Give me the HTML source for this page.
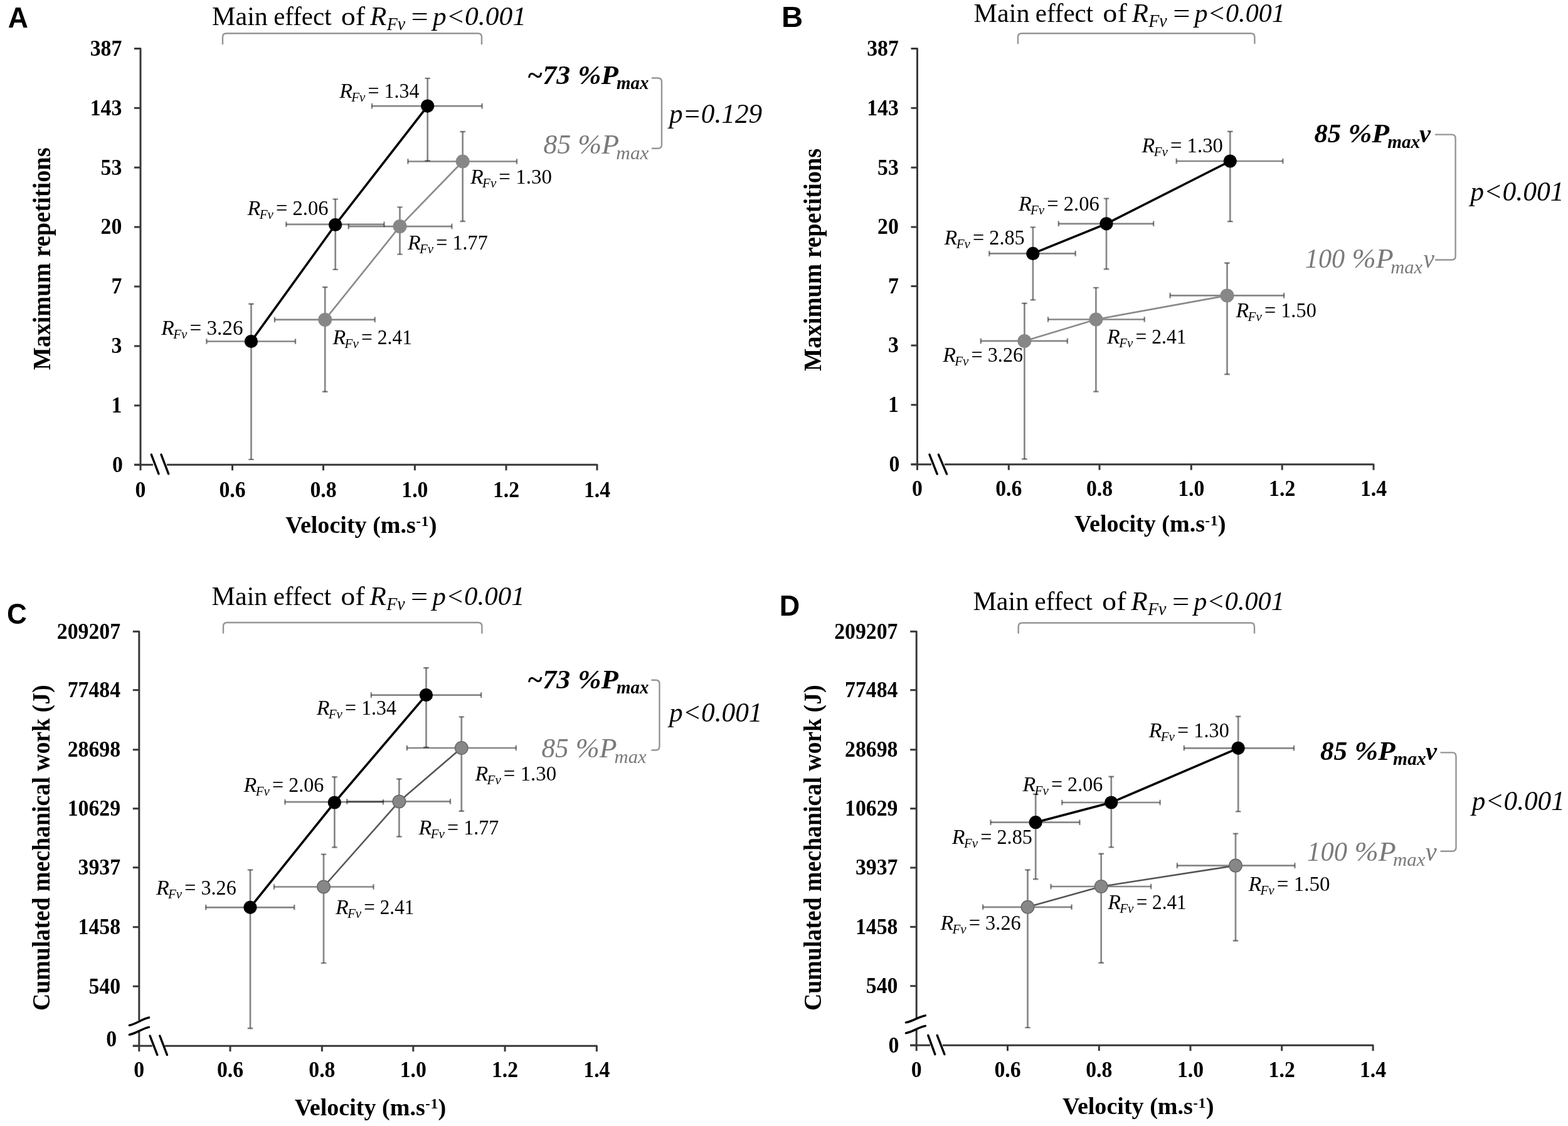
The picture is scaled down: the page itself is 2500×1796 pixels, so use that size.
<!DOCTYPE html>
<html><head><meta charset="utf-8"><title>Figure</title><style>html,body{margin:0;padding:0;background:#fff;overflow:hidden}svg{display:block}</style></head><body>
<svg width="2500" height="1796" viewBox="0 0 2500 1796" font-family="'Liberation Serif', 'Times New Roman', serif" fill="#000">
<rect width="2500" height="1796" fill="#fff"/>
<path d="M214,77.4 L224,77.4 L224,750.3" fill="none" stroke="#383838" stroke-width="3" stroke-linejoin="round"/>
<line x1="214" y1="172.3" x2="224" y2="172.3" stroke="#383838" stroke-width="3" stroke-linecap="butt"/>
<line x1="214" y1="267.2" x2="224" y2="267.2" stroke="#383838" stroke-width="3" stroke-linecap="butt"/>
<line x1="214" y1="362.1" x2="224" y2="362.1" stroke="#383838" stroke-width="3" stroke-linecap="butt"/>
<line x1="214" y1="457" x2="224" y2="457" stroke="#383838" stroke-width="3" stroke-linecap="butt"/>
<line x1="214" y1="552" x2="224" y2="552" stroke="#383838" stroke-width="3" stroke-linecap="butt"/>
<line x1="214" y1="646.8" x2="224" y2="646.8" stroke="#383838" stroke-width="3" stroke-linecap="butt"/>
<line x1="214" y1="741.3" x2="224" y2="741.3" stroke="#383838" stroke-width="3" stroke-linecap="butt"/>
<line x1="214" y1="741.3" x2="244" y2="741.3" stroke="#383838" stroke-width="3" stroke-linecap="butt"/>
<path d="M266,741.3 L952,741.3 L952,750.3" fill="none" stroke="#383838" stroke-width="3" stroke-linejoin="round"/>
<line x1="370.5" y1="741.3" x2="370.5" y2="750.3" stroke="#383838" stroke-width="3" stroke-linecap="butt"/>
<line x1="515.5" y1="741.3" x2="515.5" y2="750.3" stroke="#383838" stroke-width="3" stroke-linecap="butt"/>
<line x1="661.4" y1="741.3" x2="661.4" y2="750.3" stroke="#383838" stroke-width="3" stroke-linecap="butt"/>
<line x1="807" y1="741.3" x2="807" y2="750.3" stroke="#383838" stroke-width="3" stroke-linecap="butt"/>
<line x1="241.3" y1="725.1" x2="253" y2="755.8" stroke="#000" stroke-width="3.4" stroke-linecap="round"/>
<line x1="257" y1="725.1" x2="268.7" y2="755.8" stroke="#000" stroke-width="3.4" stroke-linecap="round"/>
<g font-weight="bold" font-size="35">
<text x="194.3" y="88.7" text-anchor="end" textLength="50.66" lengthAdjust="spacingAndGlyphs">387</text>
<text x="194.3" y="183.6" text-anchor="end" textLength="50.66" lengthAdjust="spacingAndGlyphs">143</text>
<text x="194.3" y="278.5" text-anchor="end" textLength="33.77" lengthAdjust="spacingAndGlyphs">53</text>
<text x="194.3" y="373.4" text-anchor="end" textLength="33.77" lengthAdjust="spacingAndGlyphs">20</text>
<text x="194.3" y="468.3" text-anchor="end" textLength="16.89" lengthAdjust="spacingAndGlyphs">7</text>
<text x="194.3" y="563.3" text-anchor="end" textLength="16.89" lengthAdjust="spacingAndGlyphs">3</text>
<text x="194.3" y="658.1" text-anchor="end" textLength="16.89" lengthAdjust="spacingAndGlyphs">1</text>
<text x="195.8" y="752.6" text-anchor="end" textLength="16.89" lengthAdjust="spacingAndGlyphs">0</text>
<text x="224" y="792.5" text-anchor="middle" textLength="16.89" lengthAdjust="spacingAndGlyphs">0</text>
<text x="370.5" y="792.5" text-anchor="middle" textLength="42.22" lengthAdjust="spacingAndGlyphs">0.6</text>
<text x="515.5" y="792.5" text-anchor="middle" textLength="42.22" lengthAdjust="spacingAndGlyphs">0.8</text>
<text x="661.4" y="792.5" text-anchor="middle" textLength="42.22" lengthAdjust="spacingAndGlyphs">1.0</text>
<text x="807" y="792.5" text-anchor="middle" textLength="42.22" lengthAdjust="spacingAndGlyphs">1.2</text>
<text x="952" y="792.5" text-anchor="middle" textLength="42.22" lengthAdjust="spacingAndGlyphs">1.4</text>
</g>
<text><tspan x="454.88" y="849.50" font-size="38.5" font-weight="bold" textLength="208.04" lengthAdjust="spacingAndGlyphs">Velocity (m.s</tspan><tspan x="663.38" y="839.00" font-size="24" font-weight="bold" textLength="7.44" lengthAdjust="spacingAndGlyphs">-</tspan><tspan x="671.58" y="839.00" font-size="24" font-weight="bold">1</tspan><tspan x="683.66" y="849.50" font-size="38.5" font-weight="bold">)</tspan></text>
<text transform="translate(80.30,590.26) rotate(-90)" font-weight="bold" font-size="40" textLength="354.99" lengthAdjust="spacingAndGlyphs">Maximum repetitions</text>
<text><tspan x="12.69" y="43.50" font-size="46" font-family="Liberation Sans, Arial, sans-serif" font-weight="bold" textLength="32.18" lengthAdjust="spacingAndGlyphs">A</tspan></text>
<path d="M1452.5,77.4 L1462.5,77.4 L1462.5,749.7" fill="none" stroke="#383838" stroke-width="3" stroke-linejoin="round"/>
<line x1="1452.5" y1="172.3" x2="1462.5" y2="172.3" stroke="#383838" stroke-width="3" stroke-linecap="butt"/>
<line x1="1452.5" y1="267.2" x2="1462.5" y2="267.2" stroke="#383838" stroke-width="3" stroke-linecap="butt"/>
<line x1="1452.5" y1="362.1" x2="1462.5" y2="362.1" stroke="#383838" stroke-width="3" stroke-linecap="butt"/>
<line x1="1452.5" y1="456.5" x2="1462.5" y2="456.5" stroke="#383838" stroke-width="3" stroke-linecap="butt"/>
<line x1="1452.5" y1="551" x2="1462.5" y2="551" stroke="#383838" stroke-width="3" stroke-linecap="butt"/>
<line x1="1452.5" y1="645.8" x2="1462.5" y2="645.8" stroke="#383838" stroke-width="3" stroke-linecap="butt"/>
<line x1="1452.5" y1="740.7" x2="1462.5" y2="740.7" stroke="#383838" stroke-width="3" stroke-linecap="butt"/>
<line x1="1452.5" y1="740.7" x2="1485" y2="740.7" stroke="#383838" stroke-width="3" stroke-linecap="butt"/>
<path d="M1506,740.7 L2190,740.7 L2190,749.7" fill="none" stroke="#383838" stroke-width="3" stroke-linejoin="round"/>
<line x1="1608.3" y1="740.7" x2="1608.3" y2="749.7" stroke="#383838" stroke-width="3" stroke-linecap="butt"/>
<line x1="1753" y1="740.7" x2="1753" y2="749.7" stroke="#383838" stroke-width="3" stroke-linecap="butt"/>
<line x1="1899.3" y1="740.7" x2="1899.3" y2="749.7" stroke="#383838" stroke-width="3" stroke-linecap="butt"/>
<line x1="2044.2" y1="740.7" x2="2044.2" y2="749.7" stroke="#383838" stroke-width="3" stroke-linecap="butt"/>
<line x1="1482" y1="725.1" x2="1494.2" y2="756.1" stroke="#000" stroke-width="3.4" stroke-linecap="round"/>
<line x1="1496.4" y1="725.1" x2="1509.6" y2="756.1" stroke="#000" stroke-width="3.4" stroke-linecap="round"/>
<g font-weight="bold" font-size="35">
<text x="1432.8" y="88.7" text-anchor="end" textLength="50.66" lengthAdjust="spacingAndGlyphs">387</text>
<text x="1432.8" y="183.6" text-anchor="end" textLength="50.66" lengthAdjust="spacingAndGlyphs">143</text>
<text x="1432.8" y="278.5" text-anchor="end" textLength="33.77" lengthAdjust="spacingAndGlyphs">53</text>
<text x="1432.8" y="373.4" text-anchor="end" textLength="33.77" lengthAdjust="spacingAndGlyphs">20</text>
<text x="1432.8" y="467.8" text-anchor="end" textLength="16.89" lengthAdjust="spacingAndGlyphs">7</text>
<text x="1432.8" y="562.3" text-anchor="end" textLength="16.89" lengthAdjust="spacingAndGlyphs">3</text>
<text x="1432.8" y="657.1" text-anchor="end" textLength="16.89" lengthAdjust="spacingAndGlyphs">1</text>
<text x="1434.3" y="752" text-anchor="end" textLength="16.89" lengthAdjust="spacingAndGlyphs">0</text>
<text x="1462.5" y="791" text-anchor="middle" textLength="16.89" lengthAdjust="spacingAndGlyphs">0</text>
<text x="1608.3" y="791" text-anchor="middle" textLength="42.22" lengthAdjust="spacingAndGlyphs">0.6</text>
<text x="1753" y="791" text-anchor="middle" textLength="42.22" lengthAdjust="spacingAndGlyphs">0.8</text>
<text x="1899.3" y="791" text-anchor="middle" textLength="42.22" lengthAdjust="spacingAndGlyphs">1.0</text>
<text x="2044.2" y="791" text-anchor="middle" textLength="42.22" lengthAdjust="spacingAndGlyphs">1.2</text>
<text x="2190" y="791" text-anchor="middle" textLength="42.22" lengthAdjust="spacingAndGlyphs">1.4</text>
</g>
<text><tspan x="1712.98" y="848.10" font-size="38.5" font-weight="bold" textLength="208.04" lengthAdjust="spacingAndGlyphs">Velocity (m.s</tspan><tspan x="1921.48" y="837.60" font-size="24" font-weight="bold" textLength="7.44" lengthAdjust="spacingAndGlyphs">-</tspan><tspan x="1929.68" y="837.60" font-size="24" font-weight="bold">1</tspan><tspan x="1941.76" y="848.10" font-size="38.5" font-weight="bold">)</tspan></text>
<text transform="translate(1309.30,592.06) rotate(-90)" font-weight="bold" font-size="40" textLength="355.39" lengthAdjust="spacingAndGlyphs">Maximum repetitions</text>
<text><tspan x="1246.13" y="42.50" font-size="46" font-family="Liberation Sans, Arial, sans-serif" font-weight="bold" textLength="34.22" lengthAdjust="spacingAndGlyphs">B</tspan></text>
<path d="M211.8,1007.2 L221.8,1007.2 L221.8,1627.6" fill="none" stroke="#383838" stroke-width="3" stroke-linejoin="round"/>
<line x1="221.8" y1="1645.4" x2="221.8" y2="1677.2" stroke="#383838" stroke-width="3" stroke-linecap="butt"/>
<line x1="211.8" y1="1100.7" x2="221.8" y2="1100.7" stroke="#383838" stroke-width="3" stroke-linecap="butt"/>
<line x1="211.8" y1="1195.8" x2="221.8" y2="1195.8" stroke="#383838" stroke-width="3" stroke-linecap="butt"/>
<line x1="211.8" y1="1289.7" x2="221.8" y2="1289.7" stroke="#383838" stroke-width="3" stroke-linecap="butt"/>
<line x1="211.8" y1="1383.7" x2="221.8" y2="1383.7" stroke="#383838" stroke-width="3" stroke-linecap="butt"/>
<line x1="211.8" y1="1478.7" x2="221.8" y2="1478.7" stroke="#383838" stroke-width="3" stroke-linecap="butt"/>
<line x1="211.8" y1="1573.2" x2="221.8" y2="1573.2" stroke="#383838" stroke-width="3" stroke-linecap="butt"/>
<line x1="211.8" y1="1668.2" x2="221.8" y2="1668.2" stroke="#383838" stroke-width="3" stroke-linecap="butt"/>
<line x1="211.8" y1="1668.2" x2="242.8" y2="1668.2" stroke="#383838" stroke-width="3" stroke-linecap="butt"/>
<path d="M263,1668.2 L951.4,1668.2 L951.4,1677.2" fill="none" stroke="#383838" stroke-width="3" stroke-linejoin="round"/>
<line x1="367" y1="1668.2" x2="367" y2="1677.2" stroke="#383838" stroke-width="3" stroke-linecap="butt"/>
<line x1="513.4" y1="1668.2" x2="513.4" y2="1677.2" stroke="#383838" stroke-width="3" stroke-linecap="butt"/>
<line x1="658.8" y1="1668.2" x2="658.8" y2="1677.2" stroke="#383838" stroke-width="3" stroke-linecap="butt"/>
<line x1="805.1" y1="1668.2" x2="805.1" y2="1677.2" stroke="#383838" stroke-width="3" stroke-linecap="butt"/>
<line x1="239.1" y1="1652.2" x2="250.8" y2="1682.6" stroke="#000" stroke-width="3.4" stroke-linecap="round"/>
<line x1="254.8" y1="1652.2" x2="266.4" y2="1682.6" stroke="#000" stroke-width="3.4" stroke-linecap="round"/>
<path d="M206.3,1635.3 C218.2,1632.8 225.7,1625.5 237.6,1623" fill="none" stroke="#000" stroke-width="3.4" stroke-linecap="round"/>
<path d="M206.3,1650.3 C218.2,1647.9 225.7,1640.8 237.6,1638.4" fill="none" stroke="#000" stroke-width="3.4" stroke-linecap="round"/>
<g font-weight="bold" font-size="35">
<text x="192.1" y="1018.5" text-anchor="end" textLength="101.33" lengthAdjust="spacingAndGlyphs">209207</text>
<text x="192.1" y="1112" text-anchor="end" textLength="84.44" lengthAdjust="spacingAndGlyphs">77484</text>
<text x="192.1" y="1207.1" text-anchor="end" textLength="84.44" lengthAdjust="spacingAndGlyphs">28698</text>
<text x="192.1" y="1301" text-anchor="end" textLength="84.44" lengthAdjust="spacingAndGlyphs">10629</text>
<text x="192.1" y="1395" text-anchor="end" textLength="67.55" lengthAdjust="spacingAndGlyphs">3937</text>
<text x="192.1" y="1490" text-anchor="end" textLength="67.55" lengthAdjust="spacingAndGlyphs">1458</text>
<text x="192.1" y="1584.5" text-anchor="end" textLength="50.66" lengthAdjust="spacingAndGlyphs">540</text>
<text x="186.1" y="1669.3" text-anchor="end" textLength="16.89" lengthAdjust="spacingAndGlyphs">0</text>
<text x="221.6" y="1718.3" text-anchor="middle" textLength="16.89" lengthAdjust="spacingAndGlyphs">0</text>
<text x="367" y="1718.3" text-anchor="middle" textLength="42.22" lengthAdjust="spacingAndGlyphs">0.6</text>
<text x="513.4" y="1718.3" text-anchor="middle" textLength="42.22" lengthAdjust="spacingAndGlyphs">0.8</text>
<text x="658.8" y="1718.3" text-anchor="middle" textLength="42.22" lengthAdjust="spacingAndGlyphs">1.0</text>
<text x="805.1" y="1718.3" text-anchor="middle" textLength="42.22" lengthAdjust="spacingAndGlyphs">1.2</text>
<text x="951.4" y="1718.3" text-anchor="middle" textLength="42.22" lengthAdjust="spacingAndGlyphs">1.4</text>
</g>
<text><tspan x="469.78" y="1778.70" font-size="38.5" font-weight="bold" textLength="208.04" lengthAdjust="spacingAndGlyphs">Velocity (m.s</tspan><tspan x="678.28" y="1768.20" font-size="24" font-weight="bold" textLength="7.44" lengthAdjust="spacingAndGlyphs">-</tspan><tspan x="686.48" y="1768.20" font-size="24" font-weight="bold">1</tspan><tspan x="698.56" y="1778.70" font-size="38.5" font-weight="bold">)</tspan></text>
<text transform="translate(79.20,1612.05) rotate(-90)" font-weight="bold" font-size="40" textLength="519.71" lengthAdjust="spacingAndGlyphs">Cumulated mechanical work (J)</text>
<text><tspan x="10.89" y="994.60" font-size="46" font-family="Liberation Sans, Arial, sans-serif" font-weight="bold" textLength="31.81" lengthAdjust="spacingAndGlyphs">C</tspan></text>
<path d="M1451.2,1007.2 L1461.2,1007.2 L1461.2,1624.5" fill="none" stroke="#383838" stroke-width="3" stroke-linejoin="round"/>
<line x1="1461.2" y1="1642" x2="1461.2" y2="1676.2" stroke="#383838" stroke-width="3" stroke-linecap="butt"/>
<line x1="1451.2" y1="1100.7" x2="1461.2" y2="1100.7" stroke="#383838" stroke-width="3" stroke-linecap="butt"/>
<line x1="1451.2" y1="1195.8" x2="1461.2" y2="1195.8" stroke="#383838" stroke-width="3" stroke-linecap="butt"/>
<line x1="1451.2" y1="1289.7" x2="1461.2" y2="1289.7" stroke="#383838" stroke-width="3" stroke-linecap="butt"/>
<line x1="1451.2" y1="1384" x2="1461.2" y2="1384" stroke="#383838" stroke-width="3" stroke-linecap="butt"/>
<line x1="1451.2" y1="1478.4" x2="1461.2" y2="1478.4" stroke="#383838" stroke-width="3" stroke-linecap="butt"/>
<line x1="1451.2" y1="1572.7" x2="1461.2" y2="1572.7" stroke="#383838" stroke-width="3" stroke-linecap="butt"/>
<line x1="1451.2" y1="1667.2" x2="1461.2" y2="1667.2" stroke="#383838" stroke-width="3" stroke-linecap="butt"/>
<line x1="1451.2" y1="1667.2" x2="1483" y2="1667.2" stroke="#383838" stroke-width="3" stroke-linecap="butt"/>
<path d="M1503,1667.2 L2189.1,1667.2 L2189.1,1676.2" fill="none" stroke="#383838" stroke-width="3" stroke-linejoin="round"/>
<line x1="1606.5" y1="1667.2" x2="1606.5" y2="1676.2" stroke="#383838" stroke-width="3" stroke-linecap="butt"/>
<line x1="1752.3" y1="1667.2" x2="1752.3" y2="1676.2" stroke="#383838" stroke-width="3" stroke-linecap="butt"/>
<line x1="1898" y1="1667.2" x2="1898" y2="1676.2" stroke="#383838" stroke-width="3" stroke-linecap="butt"/>
<line x1="2043.7" y1="1667.2" x2="2043.7" y2="1676.2" stroke="#383838" stroke-width="3" stroke-linecap="butt"/>
<line x1="1479.8" y1="1651.4" x2="1490.8" y2="1681.7" stroke="#000" stroke-width="3.4" stroke-linecap="round"/>
<line x1="1494.2" y1="1651.4" x2="1505.9" y2="1681.7" stroke="#000" stroke-width="3.4" stroke-linecap="round"/>
<path d="M1444.4,1630.9 C1456.2,1628.7 1463.6,1622 1475.4,1619.8" fill="none" stroke="#000" stroke-width="3.4" stroke-linecap="round"/>
<path d="M1444.4,1647.9 C1456.2,1645.6 1463.6,1638.7 1475.4,1636.4" fill="none" stroke="#000" stroke-width="3.4" stroke-linecap="round"/>
<g font-weight="bold" font-size="35">
<text x="1431.5" y="1018.5" text-anchor="end" textLength="101.33" lengthAdjust="spacingAndGlyphs">209207</text>
<text x="1431.5" y="1112" text-anchor="end" textLength="84.44" lengthAdjust="spacingAndGlyphs">77484</text>
<text x="1431.5" y="1207.1" text-anchor="end" textLength="84.44" lengthAdjust="spacingAndGlyphs">28698</text>
<text x="1431.5" y="1301" text-anchor="end" textLength="84.44" lengthAdjust="spacingAndGlyphs">10629</text>
<text x="1431.5" y="1395.3" text-anchor="end" textLength="67.55" lengthAdjust="spacingAndGlyphs">3937</text>
<text x="1431.5" y="1489.7" text-anchor="end" textLength="67.55" lengthAdjust="spacingAndGlyphs">1458</text>
<text x="1431.5" y="1584" text-anchor="end" textLength="50.66" lengthAdjust="spacingAndGlyphs">540</text>
<text x="1433.5" y="1678.5" text-anchor="end" textLength="16.89" lengthAdjust="spacingAndGlyphs">0</text>
<text x="1461.3" y="1718" text-anchor="middle" textLength="16.89" lengthAdjust="spacingAndGlyphs">0</text>
<text x="1606.5" y="1718" text-anchor="middle" textLength="42.22" lengthAdjust="spacingAndGlyphs">0.6</text>
<text x="1752.3" y="1718" text-anchor="middle" textLength="42.22" lengthAdjust="spacingAndGlyphs">0.8</text>
<text x="1898" y="1718" text-anchor="middle" textLength="42.22" lengthAdjust="spacingAndGlyphs">1.0</text>
<text x="2043.7" y="1718" text-anchor="middle" textLength="42.22" lengthAdjust="spacingAndGlyphs">1.2</text>
<text x="2189.1" y="1718" text-anchor="middle" textLength="42.22" lengthAdjust="spacingAndGlyphs">1.4</text>
</g>
<text><tspan x="1693.88" y="1777.30" font-size="38.5" font-weight="bold" textLength="208.04" lengthAdjust="spacingAndGlyphs">Velocity (m.s</tspan><tspan x="1902.38" y="1766.80" font-size="24" font-weight="bold" textLength="7.44" lengthAdjust="spacingAndGlyphs">-</tspan><tspan x="1910.58" y="1766.80" font-size="24" font-weight="bold">1</tspan><tspan x="1922.66" y="1777.30" font-size="38.5" font-weight="bold">)</tspan></text>
<text transform="translate(1308.60,1612.05) rotate(-90)" font-weight="bold" font-size="40" textLength="519.71" lengthAdjust="spacingAndGlyphs">Cumulated mechanical work (J)</text>
<text><tspan x="1242.79" y="982.40" font-size="46" font-family="Liberation Sans, Arial, sans-serif" font-weight="bold" textLength="32.50" lengthAdjust="spacingAndGlyphs">D</tspan></text>
<text><tspan x="337.99" y="39.60" font-size="43" textLength="88.95" lengthAdjust="spacingAndGlyphs">Main</tspan><tspan x="436.22" y="39.60" font-size="43" textLength="92.32" lengthAdjust="spacingAndGlyphs">effect</tspan><tspan x="543.74" y="39.60" font-size="43" textLength="38.46" lengthAdjust="spacingAndGlyphs">of</tspan><tspan x="590.03" y="39.60" font-size="43" font-style="italic">R</tspan><tspan x="616.65" y="47.80" font-size="29" font-style="italic" textLength="29.45" lengthAdjust="spacingAndGlyphs">Fv</tspan><tspan x="655.59" y="39.60" font-size="43" textLength="27.27" lengthAdjust="spacingAndGlyphs">=</tspan><tspan x="689.95" y="39.60" font-size="43" font-style="italic" textLength="149.13" lengthAdjust="spacingAndGlyphs">p&lt;0.001</tspan></text>
<path d="M355,71 L355,59.3 Q355,53.3 361,53.3 L762,53.3 Q768,53.3 768,59.3 L768,71" fill="none" stroke="#959595" stroke-width="2.4"/>
<path d="M329.4,544.5H471M400.5,484.8V732.9" fill="none" stroke="#000" stroke-opacity="0.47" stroke-width="2.7"/>
<path d="M329.4,540.2V548.8M471,540.2V548.8M396.2,484.8H404.8M396.2,732.9H404.8" fill="none" stroke="#000" stroke-opacity="0.47" stroke-width="2.4"/>
<path d="M456.3,357.8H612.5M534.7,317.6V429.9" fill="none" stroke="#000" stroke-opacity="0.47" stroke-width="2.7"/>
<path d="M456.3,353.5V362.1M612.5,353.5V362.1M530.4,317.6H539M530.4,429.9H539" fill="none" stroke="#000" stroke-opacity="0.47" stroke-width="2.4"/>
<path d="M592.9,169.1H768.6M681.7,124.9V256.4" fill="none" stroke="#000" stroke-opacity="0.47" stroke-width="2.7"/>
<path d="M592.9,164.8V173.4M768.6,164.8V173.4M677.4,124.9H686M677.4,256.4H686" fill="none" stroke="#000" stroke-opacity="0.47" stroke-width="2.4"/>
<path d="M437.9,509.9H597.7M518.2,458V624.8" fill="none" stroke="#000" stroke-opacity="0.47" stroke-width="2.7"/>
<path d="M437.9,505.6V514.2M597.7,505.6V514.2M513.9,458H522.5M513.9,624.8H522.5" fill="none" stroke="#000" stroke-opacity="0.47" stroke-width="2.4"/>
<path d="M555.7,361.1H720.4M637.5,330.4V405.6" fill="none" stroke="#000" stroke-opacity="0.47" stroke-width="2.7"/>
<path d="M555.7,356.8V365.4M720.4,356.8V365.4M633.2,330.4H641.8M633.2,405.6H641.8" fill="none" stroke="#000" stroke-opacity="0.47" stroke-width="2.4"/>
<path d="M650.4,257.5H824M737.7,210V353" fill="none" stroke="#000" stroke-opacity="0.47" stroke-width="2.7"/>
<path d="M650.4,253.2V261.8M824,253.2V261.8M733.4,210H742M733.4,353H742" fill="none" stroke="#000" stroke-opacity="0.47" stroke-width="2.4"/>
<polyline points="518.2,509.9 637.5,361.1 737.7,257.5" fill="none" stroke="#8a8a8a" stroke-width="2.6"/>
<polyline points="400.5,544.5 534.7,358.5 681.7,169.1" fill="none" stroke="#000" stroke-width="3.6"/>
<circle cx="518.2" cy="509.9" r="11" fill="#878787"/>
<circle cx="637.5" cy="361.1" r="11" fill="#878787"/>
<circle cx="737.7" cy="257.5" r="11" fill="#878787"/>
<circle cx="400.5" cy="544.5" r="10.6" fill="#000"/>
<circle cx="534.7" cy="358.5" r="10.6" fill="#000"/>
<circle cx="681.7" cy="169.1" r="10.6" fill="#000"/>
<text><tspan x="541.18" y="155.80" font-size="34" font-style="italic">R</tspan><tspan x="560.31" y="161.80" font-size="21" font-style="italic">Fv</tspan><tspan x="586.61" y="155.80" font-size="34" textLength="81.89" lengthAdjust="spacingAndGlyphs">= 1.34</tspan></text>
<text><tspan x="394.58" y="343.00" font-size="34" font-style="italic">R</tspan><tspan x="413.71" y="349.00" font-size="21" font-style="italic">Fv</tspan><tspan x="439.98" y="343.00" font-size="34" textLength="83.59" lengthAdjust="spacingAndGlyphs">= 2.06</tspan></text>
<text><tspan x="257.08" y="534.10" font-size="34" font-style="italic">R</tspan><tspan x="276.21" y="540.10" font-size="21" font-style="italic">Fv</tspan><tspan x="302.45" y="534.10" font-size="34" textLength="85.14" lengthAdjust="spacingAndGlyphs">= 3.26</tspan></text>
<text><tspan x="749.98" y="293.00" font-size="34" font-style="italic">R</tspan><tspan x="769.11" y="299.00" font-size="21" font-style="italic">Fv</tspan><tspan x="795.36" y="293.00" font-size="34" textLength="84.60" lengthAdjust="spacingAndGlyphs">= 1.30</tspan></text>
<text><tspan x="649.88" y="398.30" font-size="34" font-style="italic">R</tspan><tspan x="669.01" y="404.30" font-size="21" font-style="italic">Fv</tspan><tspan x="695.30" y="398.30" font-size="34" textLength="82.43" lengthAdjust="spacingAndGlyphs">= 1.77</tspan></text>
<text><tspan x="530.48" y="548.60" font-size="34" font-style="italic">R</tspan><tspan x="549.61" y="554.60" font-size="21" font-style="italic">Fv</tspan><tspan x="575.92" y="548.60" font-size="34" textLength="81.18" lengthAdjust="spacingAndGlyphs">= 2.41</tspan></text>
<text><tspan x="840.26" y="133.50" font-size="43" font-weight="bold" font-style="italic" textLength="68.92" lengthAdjust="spacingAndGlyphs">~73</tspan><tspan x="921.32" y="133.50" font-size="43" font-weight="bold" font-style="italic" textLength="64.50" lengthAdjust="spacingAndGlyphs">%P</tspan><tspan x="983.05" y="142.00" font-size="29" font-weight="bold" font-style="italic" textLength="51.46" lengthAdjust="spacingAndGlyphs">max</tspan></text>
<text fill="#7a7a7a"><tspan x="866.58" y="245.00" font-size="44" font-style="italic" textLength="43.61" lengthAdjust="spacingAndGlyphs">85</tspan><tspan x="921.29" y="245.00" font-size="44" font-style="italic" textLength="65.97" lengthAdjust="spacingAndGlyphs">%P</tspan><tspan x="982.37" y="254.00" font-size="29" font-style="italic" textLength="52.06" lengthAdjust="spacingAndGlyphs">max</tspan></text>
<path d="M1039,124.5 L1049,124.5 Q1055,124.5 1055,130.5 L1055,230.7 Q1055,236.7 1049,236.7 L1039,236.7" fill="none" stroke="#959595" stroke-width="2.4"/>
<text><tspan x="1067.03" y="195.50" font-size="44" font-style="italic" textLength="148.16" lengthAdjust="spacingAndGlyphs">p=0.129</tspan></text>
<text><tspan x="1552.59" y="35.20" font-size="43" textLength="88.95" lengthAdjust="spacingAndGlyphs">Main</tspan><tspan x="1650.82" y="35.20" font-size="43" textLength="92.32" lengthAdjust="spacingAndGlyphs">effect</tspan><tspan x="1758.34" y="35.20" font-size="43" textLength="38.46" lengthAdjust="spacingAndGlyphs">of</tspan><tspan x="1804.63" y="35.20" font-size="43" font-style="italic">R</tspan><tspan x="1831.25" y="43.40" font-size="29" font-style="italic" textLength="29.45" lengthAdjust="spacingAndGlyphs">Fv</tspan><tspan x="1870.19" y="35.20" font-size="43" textLength="27.27" lengthAdjust="spacingAndGlyphs">=</tspan><tspan x="1904.47" y="35.20" font-size="43" font-style="italic" textLength="144.46" lengthAdjust="spacingAndGlyphs">p&lt;0.001</tspan></text>
<path d="M1623,70 L1623,59.2 Q1623,53.2 1629,53.2 L1994.4,53.2 Q2000.4,53.2 2000.4,59.2 L2000.4,70" fill="none" stroke="#959595" stroke-width="2.4"/>
<path d="M1577.3,404.4H1714.7M1646.9,362.4V478.4" fill="none" stroke="#000" stroke-opacity="0.47" stroke-width="2.7"/>
<path d="M1577.3,400.1V408.7M1714.7,400.1V408.7M1642.6,362.4H1651.2M1642.6,478.4H1651.2" fill="none" stroke="#000" stroke-opacity="0.47" stroke-width="2.4"/>
<path d="M1687.8,356.8H1839.2M1764,316.6V429.3" fill="none" stroke="#000" stroke-opacity="0.47" stroke-width="2.7"/>
<path d="M1687.8,352.5V361.1M1839.2,352.5V361.1M1759.7,316.6H1768.3M1759.7,429.3H1768.3" fill="none" stroke="#000" stroke-opacity="0.47" stroke-width="2.4"/>
<path d="M1875.7,257H2045.4M1961.3,209.8V353.3" fill="none" stroke="#000" stroke-opacity="0.47" stroke-width="2.7"/>
<path d="M1875.7,252.7V261.3M2045.4,252.7V261.3M1957,209.8H1965.6M1957,353.3H1965.6" fill="none" stroke="#000" stroke-opacity="0.47" stroke-width="2.4"/>
<path d="M1563.8,543.9H1701.9M1633.4,483.8V732.2" fill="none" stroke="#000" stroke-opacity="0.47" stroke-width="2.7"/>
<path d="M1563.8,539.6V548.2M1701.9,539.6V548.2M1629.1,483.8H1637.7M1629.1,732.2H1637.7" fill="none" stroke="#000" stroke-opacity="0.47" stroke-width="2.4"/>
<path d="M1671,509.5H1824.7M1747.4,458.9V624.6" fill="none" stroke="#000" stroke-opacity="0.47" stroke-width="2.7"/>
<path d="M1671,505.2V513.8M1824.7,505.2V513.8M1743.1,458.9H1751.7M1743.1,624.6H1751.7" fill="none" stroke="#000" stroke-opacity="0.47" stroke-width="2.4"/>
<path d="M1865.6,471.4H2047.2M1956.5,419.5V597" fill="none" stroke="#000" stroke-opacity="0.47" stroke-width="2.7"/>
<path d="M1865.6,467.1V475.7M2047.2,467.1V475.7M1952.2,419.5H1960.8M1952.2,597H1960.8" fill="none" stroke="#000" stroke-opacity="0.47" stroke-width="2.4"/>
<polyline points="1633.4,543.9 1747.4,509.5 1956.5,471.4" fill="none" stroke="#8a8a8a" stroke-width="2.6"/>
<polyline points="1646.9,404.4 1764,356.8 1961.3,257" fill="none" stroke="#000" stroke-width="3.6"/>
<circle cx="1633.4" cy="543.9" r="11" fill="#878787"/>
<circle cx="1747.4" cy="509.5" r="11" fill="#878787"/>
<circle cx="1956.5" cy="471.4" r="11" fill="#878787"/>
<circle cx="1646.9" cy="404.4" r="10.6" fill="#000"/>
<circle cx="1764" cy="356.8" r="10.6" fill="#000"/>
<circle cx="1961.3" cy="257" r="10.6" fill="#000"/>
<text><tspan x="1820.58" y="243.00" font-size="34" font-style="italic">R</tspan><tspan x="1839.71" y="249.00" font-size="21" font-style="italic">Fv</tspan><tspan x="1865.97" y="243.00" font-size="34" textLength="83.88" lengthAdjust="spacingAndGlyphs">= 1.30</tspan></text>
<text><tspan x="1623.88" y="335.80" font-size="34" font-style="italic">R</tspan><tspan x="1643.01" y="341.80" font-size="21" font-style="italic">Fv</tspan><tspan x="1669.28" y="335.80" font-size="34" textLength="83.59" lengthAdjust="spacingAndGlyphs">= 2.06</tspan></text>
<text><tspan x="1505.58" y="390.00" font-size="34" font-style="italic">R</tspan><tspan x="1524.71" y="396.00" font-size="21" font-style="italic">Fv</tspan><tspan x="1550.99" y="390.00" font-size="34" textLength="82.77" lengthAdjust="spacingAndGlyphs">= 2.85</tspan></text>
<text><tspan x="1503.18" y="577.00" font-size="34" font-style="italic">R</tspan><tspan x="1522.31" y="583.00" font-size="21" font-style="italic">Fv</tspan><tspan x="1548.60" y="577.00" font-size="34" textLength="82.46" lengthAdjust="spacingAndGlyphs">= 3.26</tspan></text>
<text><tspan x="1765.08" y="548.30" font-size="34" font-style="italic">R</tspan><tspan x="1784.21" y="554.30" font-size="21" font-style="italic">Fv</tspan><tspan x="1810.52" y="548.30" font-size="34" textLength="81.18" lengthAdjust="spacingAndGlyphs">= 2.41</tspan></text>
<text><tspan x="1970.48" y="505.50" font-size="34" font-style="italic">R</tspan><tspan x="1989.61" y="511.50" font-size="21" font-style="italic">Fv</tspan><tspan x="2015.89" y="505.50" font-size="34" textLength="82.94" lengthAdjust="spacingAndGlyphs">= 1.50</tspan></text>
<text><tspan x="2095.53" y="227.30" font-size="43" font-weight="bold" font-style="italic" textLength="42.68" lengthAdjust="spacingAndGlyphs">85</tspan><tspan x="2149.47" y="227.30" font-size="43" font-weight="bold" font-style="italic" textLength="65.64" lengthAdjust="spacingAndGlyphs">%P</tspan><tspan x="2212.14" y="235.60" font-size="29" font-weight="bold" font-style="italic" textLength="52.07" lengthAdjust="spacingAndGlyphs">max</tspan><tspan x="2263.12" y="227.30" font-size="43" font-weight="bold" font-style="italic" textLength="18.02" lengthAdjust="spacingAndGlyphs">v</tspan></text>
<text fill="#7a7a7a"><tspan x="2080.79" y="427.00" font-size="44" font-style="italic" textLength="63.34" lengthAdjust="spacingAndGlyphs">100</tspan><tspan x="2155.58" y="427.00" font-size="44" font-style="italic" textLength="66.18" lengthAdjust="spacingAndGlyphs">%P</tspan><tspan x="2217.30" y="435.70" font-size="29" font-style="italic" textLength="50.72" lengthAdjust="spacingAndGlyphs">max</tspan><tspan x="2269.56" y="427.00" font-size="44" font-style="italic" textLength="17.44" lengthAdjust="spacingAndGlyphs">v</tspan></text>
<path d="M2288,214.6 L2314.6,214.6 Q2320.6,214.6 2320.6,220.6 L2320.6,408.5 Q2320.6,414.5 2314.6,414.5 L2288,414.5" fill="none" stroke="#959595" stroke-width="2.4"/>
<text><tspan x="2344.16" y="319.50" font-size="44" font-style="italic" textLength="149.43" lengthAdjust="spacingAndGlyphs">p&lt;0.001</tspan></text>
<text><tspan x="337.49" y="965.00" font-size="43" textLength="88.95" lengthAdjust="spacingAndGlyphs">Main</tspan><tspan x="435.72" y="965.00" font-size="43" textLength="92.32" lengthAdjust="spacingAndGlyphs">effect</tspan><tspan x="543.24" y="965.00" font-size="43" textLength="38.46" lengthAdjust="spacingAndGlyphs">of</tspan><tspan x="589.53" y="965.00" font-size="43" font-style="italic">R</tspan><tspan x="616.15" y="973.20" font-size="29" font-style="italic" textLength="29.45" lengthAdjust="spacingAndGlyphs">Fv</tspan><tspan x="655.09" y="965.00" font-size="43" textLength="27.27" lengthAdjust="spacingAndGlyphs">=</tspan><tspan x="689.42" y="965.00" font-size="43" font-style="italic" textLength="147.30" lengthAdjust="spacingAndGlyphs">p&lt;0.001</tspan></text>
<path d="M356,1010.6 L356,999 Q356,993 362,993 L762.4,993 Q768.4,993 768.4,999 L768.4,1010.6" fill="none" stroke="#959595" stroke-width="2.4"/>
<path d="M328.2,1447.3H469.3M399,1387.5V1640.3" fill="none" stroke="#000" stroke-opacity="0.47" stroke-width="2.7"/>
<path d="M328.2,1443V1451.6M469.3,1443V1451.6M394.7,1387.5H403.3M394.7,1640.3H403.3" fill="none" stroke="#000" stroke-opacity="0.47" stroke-width="2.4"/>
<path d="M454.4,1279.2H611M533.4,1239.3V1351.5" fill="none" stroke="#000" stroke-opacity="0.47" stroke-width="2.7"/>
<path d="M454.4,1274.9V1283.5M611,1274.9V1283.5M529.1,1239.3H537.7M529.1,1351.5H537.7" fill="none" stroke="#000" stroke-opacity="0.47" stroke-width="2.4"/>
<path d="M591.8,1108.6H767.2M679.5,1065.3V1192" fill="none" stroke="#000" stroke-opacity="0.47" stroke-width="2.7"/>
<path d="M591.8,1104.3V1112.9M767.2,1104.3V1112.9M675.2,1065.3H683.8M675.2,1192H683.8" fill="none" stroke="#000" stroke-opacity="0.47" stroke-width="2.4"/>
<path d="M437,1414.5H595.5M516,1362.6V1536.1" fill="none" stroke="#000" stroke-opacity="0.47" stroke-width="2.7"/>
<path d="M437,1410.2V1418.8M595.5,1410.2V1418.8M511.7,1362.6H520.3M511.7,1536.1H520.3" fill="none" stroke="#000" stroke-opacity="0.47" stroke-width="2.4"/>
<path d="M553.3,1278.4H718M636.4,1242.5V1334.5" fill="none" stroke="#000" stroke-opacity="0.47" stroke-width="2.7"/>
<path d="M553.3,1274.1V1282.7M718,1274.1V1282.7M632.1,1242.5H640.7M632.1,1334.5H640.7" fill="none" stroke="#000" stroke-opacity="0.47" stroke-width="2.4"/>
<path d="M648.8,1193H822.8M735.8,1143.4V1293.8" fill="none" stroke="#000" stroke-opacity="0.47" stroke-width="2.7"/>
<path d="M648.8,1188.7V1197.3M822.8,1188.7V1197.3M731.5,1143.4H740.1M731.5,1293.8H740.1" fill="none" stroke="#000" stroke-opacity="0.47" stroke-width="2.4"/>
<polyline points="516,1414.5 636.4,1278.4 735.8,1193" fill="none" stroke="#555" stroke-width="2.6"/>
<polyline points="399,1447.3 533.4,1280 679.5,1108.6" fill="none" stroke="#000" stroke-width="3.6"/>
<circle cx="516" cy="1414.5" r="10.2" fill="#878787" stroke="#6a6a6a" stroke-width="1.6"/>
<circle cx="636.4" cy="1278.4" r="10.2" fill="#878787" stroke="#6a6a6a" stroke-width="1.6"/>
<circle cx="735.8" cy="1193" r="10.2" fill="#878787" stroke="#6a6a6a" stroke-width="1.6"/>
<circle cx="399" cy="1447.3" r="10.6" fill="#000"/>
<circle cx="533.4" cy="1280" r="10.6" fill="#000"/>
<circle cx="679.5" cy="1108.6" r="10.6" fill="#000"/>
<text><tspan x="504.68" y="1140.00" font-size="34" font-style="italic">R</tspan><tspan x="523.81" y="1146.00" font-size="21" font-style="italic">Fv</tspan><tspan x="550.11" y="1140.00" font-size="34" textLength="81.99" lengthAdjust="spacingAndGlyphs">= 1.34</tspan></text>
<text><tspan x="388.58" y="1262.70" font-size="34" font-style="italic">R</tspan><tspan x="407.71" y="1268.70" font-size="21" font-style="italic">Fv</tspan><tspan x="434.00" y="1262.70" font-size="34" textLength="82.46" lengthAdjust="spacingAndGlyphs">= 2.06</tspan></text>
<text><tspan x="248.88" y="1426.80" font-size="34" font-style="italic">R</tspan><tspan x="268.01" y="1432.80" font-size="21" font-style="italic">Fv</tspan><tspan x="294.30" y="1426.80" font-size="34" textLength="82.46" lengthAdjust="spacingAndGlyphs">= 3.26</tspan></text>
<text><tspan x="757.48" y="1244.50" font-size="34" font-style="italic">R</tspan><tspan x="776.61" y="1250.50" font-size="21" font-style="italic">Fv</tspan><tspan x="802.86" y="1244.50" font-size="34" textLength="84.39" lengthAdjust="spacingAndGlyphs">= 1.30</tspan></text>
<text><tspan x="667.58" y="1330.50" font-size="34" font-style="italic">R</tspan><tspan x="686.71" y="1336.50" font-size="21" font-style="italic">Fv</tspan><tspan x="713.00" y="1330.50" font-size="34" textLength="82.43" lengthAdjust="spacingAndGlyphs">= 1.77</tspan></text>
<text><tspan x="534.88" y="1457.60" font-size="34" font-style="italic">R</tspan><tspan x="554.01" y="1463.60" font-size="21" font-style="italic">Fv</tspan><tspan x="580.35" y="1457.60" font-size="34" textLength="80.03" lengthAdjust="spacingAndGlyphs">= 2.41</tspan></text>
<text><tspan x="840.26" y="1098.00" font-size="43" font-weight="bold" font-style="italic" textLength="68.92" lengthAdjust="spacingAndGlyphs">~73</tspan><tspan x="921.32" y="1098.00" font-size="43" font-weight="bold" font-style="italic" textLength="64.50" lengthAdjust="spacingAndGlyphs">%P</tspan><tspan x="983.05" y="1106.30" font-size="29" font-weight="bold" font-style="italic" textLength="51.46" lengthAdjust="spacingAndGlyphs">max</tspan></text>
<text fill="#7a7a7a"><tspan x="863.39" y="1208.20" font-size="44" font-style="italic" textLength="43.19" lengthAdjust="spacingAndGlyphs">85</tspan><tspan x="917.69" y="1208.20" font-size="44" font-style="italic" textLength="65.86" lengthAdjust="spacingAndGlyphs">%P</tspan><tspan x="979.59" y="1216.80" font-size="29" font-style="italic" textLength="51.13" lengthAdjust="spacingAndGlyphs">max</tspan></text>
<path d="M1038.5,1084.8 L1045.5,1084.8 Q1051.5,1084.8 1051.5,1090.8 L1051.5,1190.5 Q1051.5,1196.5 1045.5,1196.5 L1038.5,1196.5" fill="none" stroke="#959595" stroke-width="2.4"/>
<text><tspan x="1067.04" y="1150.50" font-size="44" font-style="italic" textLength="148.52" lengthAdjust="spacingAndGlyphs">p&lt;0.001</tspan></text>
<text><tspan x="1551.39" y="973.20" font-size="43" textLength="88.95" lengthAdjust="spacingAndGlyphs">Main</tspan><tspan x="1649.62" y="973.20" font-size="43" textLength="92.32" lengthAdjust="spacingAndGlyphs">effect</tspan><tspan x="1757.14" y="973.20" font-size="43" textLength="38.46" lengthAdjust="spacingAndGlyphs">of</tspan><tspan x="1803.43" y="973.20" font-size="43" font-style="italic">R</tspan><tspan x="1830.05" y="981.40" font-size="29" font-style="italic" textLength="29.45" lengthAdjust="spacingAndGlyphs">Fv</tspan><tspan x="1868.99" y="973.20" font-size="43" textLength="27.27" lengthAdjust="spacingAndGlyphs">=</tspan><tspan x="1903.27" y="973.20" font-size="43" font-style="italic" textLength="144.56" lengthAdjust="spacingAndGlyphs">p&lt;0.001</tspan></text>
<path d="M1623.7,1010.5 L1623.7,999.5 Q1623.7,993.5 1629.7,993.5 L1994,993.5 Q2000,993.5 2000,999.5 L2000,1010.5" fill="none" stroke="#959595" stroke-width="2.4"/>
<path d="M1579.5,1311.7H1721.4M1651.2,1266.8V1402.2" fill="none" stroke="#000" stroke-opacity="0.47" stroke-width="2.7"/>
<path d="M1579.5,1307.4V1316M1721.4,1307.4V1316M1646.9,1266.8H1655.5M1646.9,1402.2H1655.5" fill="none" stroke="#000" stroke-opacity="0.47" stroke-width="2.4"/>
<path d="M1693.3,1280H1849.6M1771.8,1238.7V1351.4" fill="none" stroke="#000" stroke-opacity="0.47" stroke-width="2.7"/>
<path d="M1693.3,1275.7V1284.3M1849.6,1275.7V1284.3M1767.5,1238.7H1776.1M1767.5,1351.4H1776.1" fill="none" stroke="#000" stroke-opacity="0.47" stroke-width="2.4"/>
<path d="M1887.8,1193.3H2063.1M1974.2,1142.7V1294.4" fill="none" stroke="#000" stroke-opacity="0.47" stroke-width="2.7"/>
<path d="M1887.8,1189V1197.6M2063.1,1189V1197.6M1969.9,1142.7H1978.5M1969.9,1294.4H1978.5" fill="none" stroke="#000" stroke-opacity="0.47" stroke-width="2.4"/>
<path d="M1567.1,1446.8H1708.6M1638.5,1387.5V1639.1" fill="none" stroke="#000" stroke-opacity="0.47" stroke-width="2.7"/>
<path d="M1567.1,1442.5V1451.1M1708.6,1442.5V1451.1M1634.2,1387.5H1642.8M1634.2,1639.1H1642.8" fill="none" stroke="#000" stroke-opacity="0.47" stroke-width="2.4"/>
<path d="M1675.5,1414H1835.2M1755.7,1361.8V1535.8" fill="none" stroke="#000" stroke-opacity="0.47" stroke-width="2.7"/>
<path d="M1675.5,1409.7V1418.3M1835.2,1409.7V1418.3M1751.4,1361.8H1760M1751.4,1535.8H1760" fill="none" stroke="#000" stroke-opacity="0.47" stroke-width="2.4"/>
<path d="M1876.8,1380.6H2064.5M1970,1329.6V1500.5" fill="none" stroke="#000" stroke-opacity="0.47" stroke-width="2.7"/>
<path d="M1876.8,1376.3V1384.9M2064.5,1376.3V1384.9M1965.7,1329.6H1974.3M1965.7,1500.5H1974.3" fill="none" stroke="#000" stroke-opacity="0.47" stroke-width="2.4"/>
<polyline points="1638.5,1446.8 1755.7,1414 1970,1380.6" fill="none" stroke="#555" stroke-width="2.6"/>
<polyline points="1651.2,1311.7 1771.8,1280 1974.2,1193.3" fill="none" stroke="#000" stroke-width="3.6"/>
<circle cx="1638.5" cy="1446.8" r="10.2" fill="#878787" stroke="#6a6a6a" stroke-width="1.6"/>
<circle cx="1755.7" cy="1414" r="10.2" fill="#878787" stroke="#6a6a6a" stroke-width="1.6"/>
<circle cx="1970" cy="1380.6" r="10.2" fill="#878787" stroke="#6a6a6a" stroke-width="1.6"/>
<circle cx="1651.2" cy="1311.7" r="10.6" fill="#000"/>
<circle cx="1771.8" cy="1280" r="10.6" fill="#000"/>
<circle cx="1974.2" cy="1193.3" r="10.6" fill="#000"/>
<text><tspan x="1831.68" y="1176.20" font-size="34" font-style="italic">R</tspan><tspan x="1850.81" y="1182.20" font-size="21" font-style="italic">Fv</tspan><tspan x="1877.09" y="1176.20" font-size="34" textLength="82.74" lengthAdjust="spacingAndGlyphs">= 1.30</tspan></text>
<text><tspan x="1630.48" y="1262.40" font-size="34" font-style="italic">R</tspan><tspan x="1649.61" y="1268.40" font-size="21" font-style="italic">Fv</tspan><tspan x="1675.90" y="1262.40" font-size="34" textLength="82.46" lengthAdjust="spacingAndGlyphs">= 2.06</tspan></text>
<text><tspan x="1517.78" y="1346.40" font-size="34" font-style="italic">R</tspan><tspan x="1536.91" y="1352.40" font-size="21" font-style="italic">Fv</tspan><tspan x="1563.19" y="1346.40" font-size="34" textLength="82.77" lengthAdjust="spacingAndGlyphs">= 2.85</tspan></text>
<text><tspan x="1499.38" y="1482.80" font-size="34" font-style="italic">R</tspan><tspan x="1518.51" y="1488.80" font-size="21" font-style="italic">Fv</tspan><tspan x="1544.79" y="1482.80" font-size="34" textLength="82.98" lengthAdjust="spacingAndGlyphs">= 3.26</tspan></text>
<text><tspan x="1766.18" y="1449.60" font-size="34" font-style="italic">R</tspan><tspan x="1785.31" y="1455.60" font-size="21" font-style="italic">Fv</tspan><tspan x="1811.65" y="1449.60" font-size="34" textLength="80.03" lengthAdjust="spacingAndGlyphs">= 2.41</tspan></text>
<text><tspan x="1990.38" y="1421.00" font-size="34" font-style="italic">R</tspan><tspan x="2009.51" y="1427.00" font-size="21" font-style="italic">Fv</tspan><tspan x="2035.75" y="1421.00" font-size="34" textLength="84.81" lengthAdjust="spacingAndGlyphs">= 1.50</tspan></text>
<text><tspan x="2105.02" y="1211.80" font-size="43" font-weight="bold" font-style="italic" textLength="43.20" lengthAdjust="spacingAndGlyphs">85</tspan><tspan x="2159.49" y="1211.80" font-size="43" font-weight="bold" font-style="italic" textLength="65.12" lengthAdjust="spacingAndGlyphs">%P</tspan><tspan x="2221.14" y="1220.40" font-size="29" font-weight="bold" font-style="italic" textLength="52.59" lengthAdjust="spacingAndGlyphs">max</tspan><tspan x="2273.12" y="1211.80" font-size="43" font-weight="bold" font-style="italic" textLength="18.02" lengthAdjust="spacingAndGlyphs">v</tspan></text>
<text fill="#7a7a7a"><tspan x="2084.08" y="1372.80" font-size="44" font-style="italic" textLength="63.96" lengthAdjust="spacingAndGlyphs">100</tspan><tspan x="2159.48" y="1372.80" font-size="44" font-style="italic" textLength="66.18" lengthAdjust="spacingAndGlyphs">%P</tspan><tspan x="2221.08" y="1380.80" font-size="29" font-style="italic" textLength="51.44" lengthAdjust="spacingAndGlyphs">max</tspan><tspan x="2272.85" y="1372.80" font-size="44" font-style="italic" textLength="17.95" lengthAdjust="spacingAndGlyphs">v</tspan></text>
<path d="M2296.5,1200.4 L2315.5,1200.4 Q2321.5,1200.4 2321.5,1206.4 L2321.5,1351.7 Q2321.5,1357.7 2315.5,1357.7 L2296.5,1357.7" fill="none" stroke="#959595" stroke-width="2.4"/>
<text><tspan x="2346.83" y="1292.00" font-size="44" font-style="italic" textLength="148.01" lengthAdjust="spacingAndGlyphs">p&lt;0.001</tspan></text>
</svg>
</body></html>
